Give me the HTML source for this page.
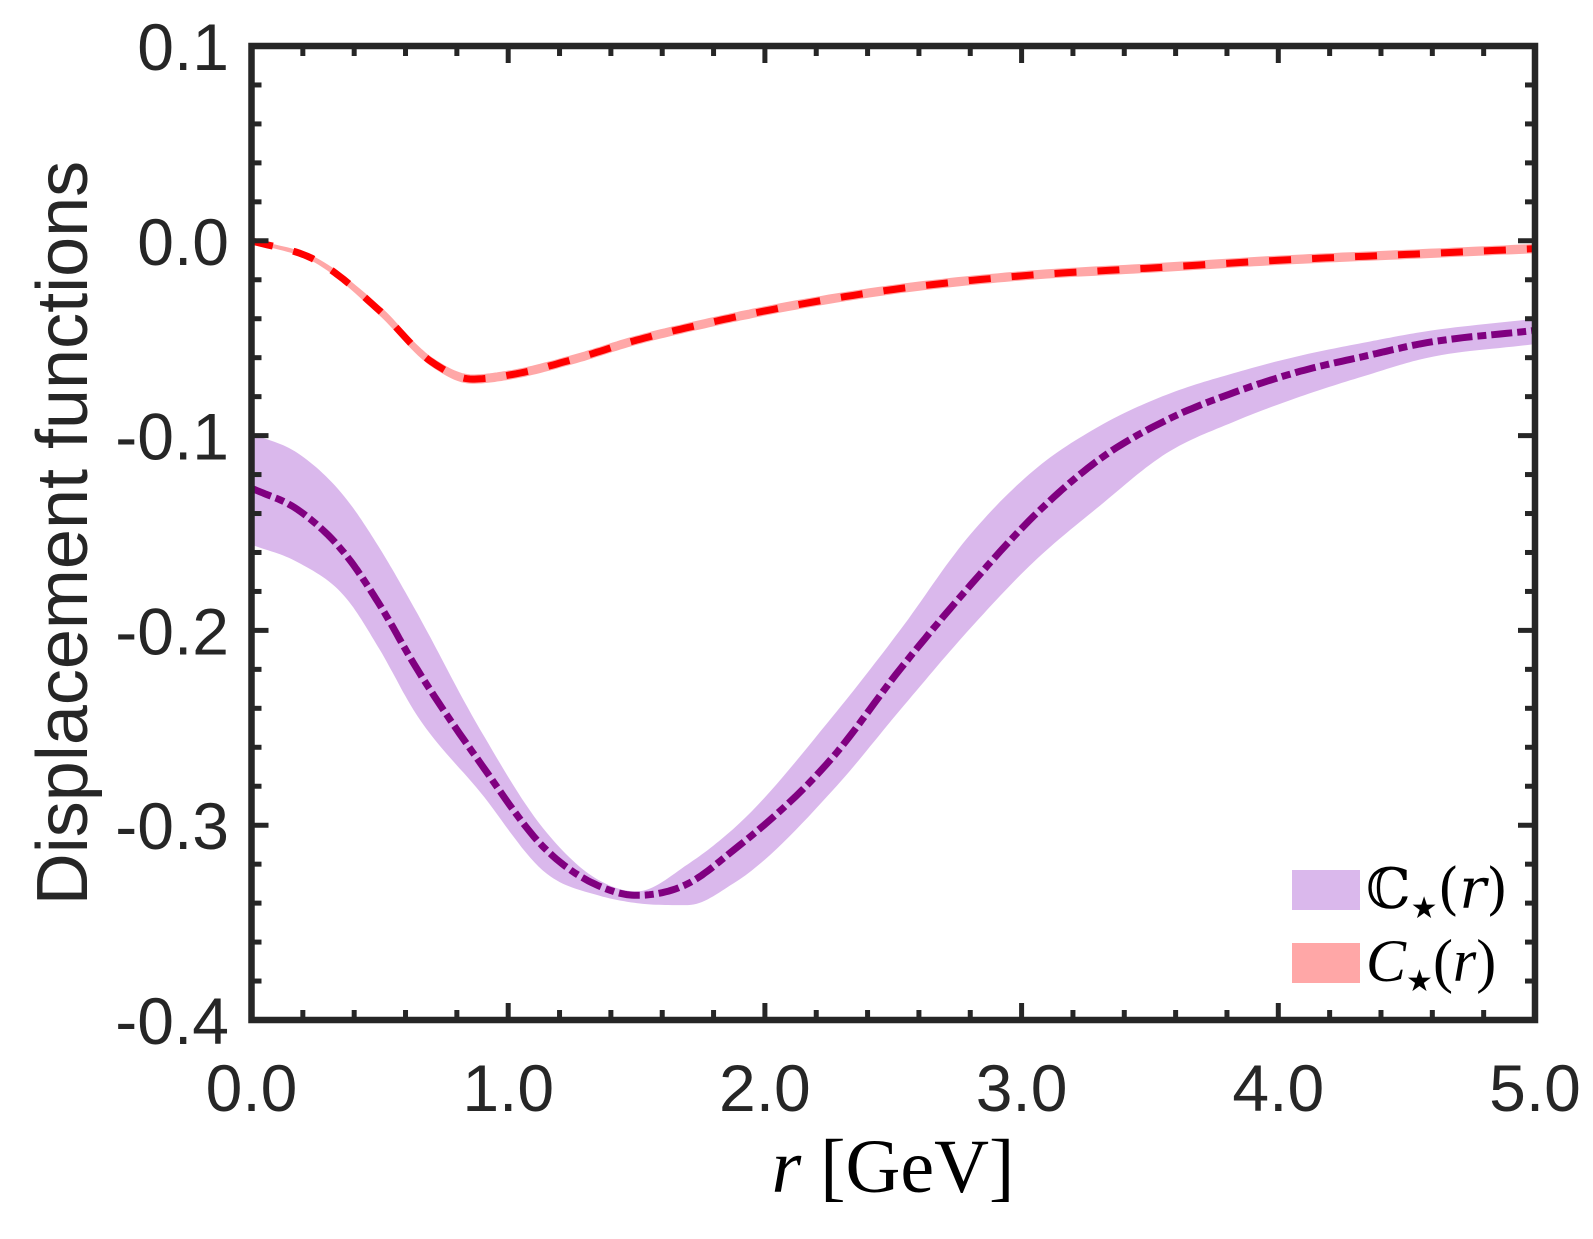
<!DOCTYPE html>
<html><head><meta charset="utf-8"><style>
html,body{margin:0;padding:0;background:#fff;}
svg{display:block;}
</style></head><body>
<svg id="chart" width="1593" height="1239" viewBox="0 0 1593 1239" xmlns="http://www.w3.org/2000/svg">
<g id="bands"></g>
<g id="lines"></g>
<g id="axes"></g>
<text transform="translate(87,533) rotate(-90)" text-anchor="middle" font-family="Liberation Sans, sans-serif" font-size="72" fill="#262626">Displacement functions</text>
<text x="893" y="1192" text-anchor="middle" font-family="Liberation Serif, serif" font-size="76" fill="#000"><tspan font-style="italic">r</tspan> [GeV]</text>
<g>
<rect x="1292" y="870" width="68" height="40" fill="#dab8ec"/>
<text x="1366" y="908" font-family="DejaVu Serif, Liberation Serif, serif" font-size="56" fill="#000">ℂ<tspan font-size="30" dy="10">★</tspan><tspan dy="-10">(<tspan font-style="italic">r</tspan>)</tspan></text>
<rect x="1292" y="943" width="68" height="40" fill="#ffa7a7"/>
<text x="1366" y="981" font-family="Liberation Serif, serif" font-size="60" font-style="italic" fill="#000">C<tspan font-size="30" dy="10" font-style="normal">★</tspan><tspan dy="-10" font-style="normal">(<tspan font-style="italic">r</tspan>)</tspan></text>
</g>
</svg>
<script>
const rBB  = [0,0.18,0.372,0.5,0.632,0.891,1.151,1.35,1.5,1.7,1.876,2.265,2.526,2.786,3.046,3.305,3.565,3.825,4.085,4.345,4.55,5];
const bbMid = [-0.127,-0.138,-0.162,-0.187,-0.217,-0.268,-0.313,-0.331,-0.336,-0.330,-0.313,-0.265,-0.220,-0.179,-0.1415,-0.112,-0.092,-0.078,-0.067,-0.059,-0.053,-0.046];
const bbHi  = [-0.099,-0.109,-0.133,-0.158,-0.188,-0.251,-0.304,-0.328,-0.334,-0.320,-0.302,-0.244,-0.200,-0.153,-0.118,-0.095,-0.079,-0.068,-0.059,-0.052,-0.047,-0.040];
const bbLo  = [-0.156,-0.165,-0.184,-0.210,-0.241,-0.283,-0.325,-0.336,-0.340,-0.341,-0.330,-0.282,-0.241,-0.201,-0.165,-0.136,-0.109,-0.093,-0.080,-0.069,-0.061,-0.053];
const rCal = [0,0.25,0.5,0.7,0.86,1.0,1.25,1.5,1.75,2,2.5,3,3.5,4,4.5,5];
const calMid = [0,-0.010,-0.036,-0.062,-0.071,-0.069,-0.061,-0.051,-0.043,-0.036,-0.025,-0.018,-0.014,-0.010,-0.007,-0.004];
const calHi  = [0.0005,-0.009,-0.034,-0.060,-0.069,-0.067,-0.059,-0.049,-0.041,-0.034,-0.023,-0.016,-0.012,-0.008,-0.005,-0.002];
const calLo  = [-0.0005,-0.011,-0.038,-0.064,-0.073,-0.071,-0.063,-0.053,-0.045,-0.038,-0.027,-0.020,-0.016,-0.012,-0.009,-0.006];
const xTicks = [0,1,2,3,4,5];
const xTickLabels = ["0.0","1.0","2.0","3.0","4.0","5.0"];
const yTicks = [0.1,0,-0.1,-0.2,-0.3,-0.4];
const yTickLabels = ["0.1","0.0","-0.1","-0.2","-0.3","-0.4"];

const L=251.5,R=1535,T=46,B=1020;
const xMin=0,xMax=5,yMin=-0.4,yMax=0.1;
function sx(v){return L+(v-xMin)/(xMax-xMin)*(R-L);}
function sy(v){return B-(v-yMin)/(yMax-yMin)*(B-T);}
const NS="http://www.w3.org/2000/svg";
function mk(tag,attrs,parent){const e=document.createElementNS(NS,tag);for(const k in attrs)e.setAttribute(k,attrs[k]);parent.appendChild(e);return e;}

function smooth(xs,ys){
  const n=xs.length,d=[],m=[];
  for(let i=0;i<n-1;i++)d.push((ys[i+1]-ys[i])/(xs[i+1]-xs[i]));
  m[0]=d[0];m[n-1]=d[n-2];
  for(let i=1;i<n-1;i++){
    if(d[i-1]*d[i]<=0)m[i]=0;
    else{const h0=xs[i]-xs[i-1],h1=xs[i+1]-xs[i];m[i]=(h0*d[i]+h1*d[i-1])/(h0+h1);}
  }
  const out=[];
  for(let i=0;i<n-1;i++){
    const h=xs[i+1]-xs[i];
    for(let k=0;k<16;k++){
      const t=k/16,t2=t*t,t3=t2*t;
      const y=(2*t3-3*t2+1)*ys[i]+(t3-2*t2+t)*h*m[i]+(-2*t3+3*t2)*ys[i+1]+(t3-t2)*h*m[i+1];
      out.push([sx(xs[i]+t*h),sy(y)]);
    }
  }
  out.push([sx(xs[n-1]),sy(ys[n-1])]);
  return out;
}
function pts(a){return a.map(q=>q[0].toFixed(1)+","+q[1].toFixed(1)).join(" ");}

const bands=document.getElementById('bands');
const lines=document.getElementById('lines');
const axes=document.getElementById('axes');

let up=smooth(rBB,bbHi),lo=smooth(rBB,bbLo).reverse();
const b1=mk('polygon',{points:pts(up.concat(lo)),fill:'#dab8ec'},bands);


up=smooth(rCal,calHi);lo=smooth(rCal,calLo).reverse();
const b2=mk('polygon',{points:pts(up.concat(lo)),fill:'#ffa7a7',stroke:'#ffa7a7','stroke-width':1.5},bands);



const l1=mk('polyline',{points:pts(smooth(rBB,bbMid)),fill:'none',stroke:'#800080','stroke-width':7,'stroke-dasharray':'21 5 9 5'},lines);


const l2=mk('polyline',{points:pts(smooth(rCal,calMid)),fill:'none',stroke:'#ff0000','stroke-width':7,'stroke-dasharray':'22 21'},lines);



const col='#262626';
for(let k=0;k<=25;k++){
  const v=k*0.2;const x=sx(v);const major=k%5===0;const len=major?17:10;
  const t1=mk('line',{x1:x,y1:B,x2:x,y2:B-len,stroke:col,'stroke-width':5},axes);
  
  
  const t2=mk('line',{x1:x,y1:T,x2:x,y2:T+len,stroke:col,'stroke-width':5},axes);
  
  
}
for(let k=0;k<=25;k++){
  const v=-0.4+k*0.02;const y=sy(v);const major=k%5===0;const len=major?17:10;
  const t1=mk('line',{x1:L,y1:y,x2:L+len,y2:y,stroke:col,'stroke-width':5},axes);
  
  
  const t2=mk('line',{x1:R,y1:y,x2:R-len,y2:y,stroke:col,'stroke-width':5},axes);
  
  
}
const frame=mk('rect',{x:L,y:T,width:R-L,height:B-T,fill:'none',stroke:col,'stroke-width':6.5},axes);



xTicks.forEach((v,i)=>{
  const t=mk('text',{x:sx(v),y:1111,'text-anchor':'middle','font-family':'Liberation Sans, sans-serif','font-size':66,fill:col},axes);
  t.textContent=xTickLabels[i];
  
  
});
yTicks.forEach((v,i)=>{
  const t=mk('text',{x:229,y:sy(v)+24,'text-anchor':'end','font-family':'Liberation Sans, sans-serif','font-size':66,fill:col},axes);
  t.textContent=yTickLabels[i];
  
  
});
</script>
</body></html>
